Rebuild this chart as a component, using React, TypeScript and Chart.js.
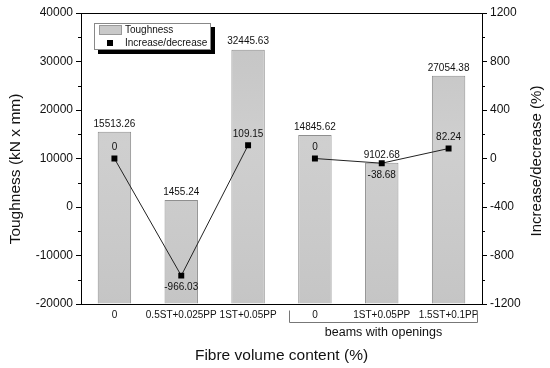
import React, { useEffect, useRef } from 'react';
import { Chart, registerables } from 'chart.js';

Chart.register(...registerables);

const categories = ['0', '0.5ST+0.025PP', '1ST+0.05PP', '0', '1ST+0.05PP', '1.5ST+0.1PP'];
const toughness = [15513.26, 1455.24, 32445.63, 14845.62, 9102.68, 27054.38];
const changeSolid = [0, -966.03, 109.15, null, null, null];
const changeOpenings = [null, null, null, 0, -38.68, 82.24];
const groupLabel = 'beams with openings';
const groupStart = 3;
const groupEnd = 5;
const leftTitle = 'Toughness (kN x mm)';
const rightTitle = 'Increase/decrease (%)';
const xTitle = 'Fibre volume content (%)';
const legendBar = 'Toughness';
const legendLine = 'Increase/decrease';

const FONT = "'Liberation Sans', Arial, Helvetica, sans-serif";

const extras = {
  id: 'extras',
  afterDraw(chart: any) {
    const ctx = chart.ctx;
    const ca = chart.chartArea;
    const yL = chart.scales.y;
    const yR = chart.scales.y1;
    const x = chart.scales.x;
    ctx.save();
    // top frame
    ctx.strokeStyle = '#000';
    ctx.lineWidth = 1;
    ctx.beginPath();
    ctx.moveTo(ca.left, Math.round(ca.top) + 0.5);
    ctx.lineTo(ca.right, Math.round(ca.top) + 0.5);
    ctx.stroke();
    // minor ticks
    const lt = yL.ticks;
    for (let i = 0; i < lt.length - 1; i++) {
      const v = (lt[i].value + lt[i + 1].value) / 2;
      const py = Math.round(yL.getPixelForValue(v)) + 0.5;
      ctx.beginPath();
      ctx.moveTo(ca.left - 3, py);
      ctx.lineTo(ca.left, py);
      ctx.stroke();
    }
    const rt = yR.ticks;
    for (let i = 0; i < rt.length - 1; i++) {
      const v = (rt[i].value + rt[i + 1].value) / 2;
      const py = Math.round(yR.getPixelForValue(v)) + 0.5;
      ctx.beginPath();
      ctx.moveTo(ca.right, py);
      ctx.lineTo(ca.right + 3, py);
      ctx.stroke();
    }
    // bar value labels
    ctx.fillStyle = '#111';
    ctx.font = `10px ${FONT}`;
    ctx.textAlign = 'center';
    ctx.textBaseline = 'bottom';
    const barMeta = chart.getDatasetMeta(0);
    barMeta.data.forEach((el: any, i: number) => {
      ctx.fillText(toughness[i].toFixed(2), el.x, el.y - 3);
    });
    // point labels
    [1, 2].forEach((di) => {
      const meta = chart.getDatasetMeta(di);
      const data = chart.data.datasets[di].data;
      meta.data.forEach((el: any, i: number) => {
        const v = data[i];
        if (v === null || v === undefined) return;
        const txt = v === 0 ? '0' : v.toFixed(2);
        if (v < 0) {
          ctx.textBaseline = 'top';
          ctx.fillText(txt, el.x, el.y + 7);
        } else {
          ctx.textBaseline = 'bottom';
          ctx.fillText(txt, el.x, el.y - 6);
        }
      });
    });
    // group bracket
    const half = (x.getPixelForValue(1) - x.getPixelForValue(0)) / 2;
    const bx0 = Math.round(x.getPixelForValue(groupStart) - half + 7) + 0.5;
    const bx1 = Math.round(x.getPixelForValue(groupEnd) + half - 5) + 0.5;
    const by = 322.5;
    ctx.strokeStyle = '#777';
    ctx.beginPath();
    ctx.moveTo(bx0, by - 12);
    ctx.lineTo(bx0, by);
    ctx.lineTo(bx1, by);
    ctx.lineTo(bx1, by - 12);
    ctx.stroke();
    ctx.fillStyle = '#111';
    ctx.font = `12.5px ${FONT}`;
    ctx.textBaseline = 'middle';
    ctx.textAlign = 'center';
    ctx.fillText(groupLabel, (bx0 + bx1) / 2, 333);
    // axis titles
    ctx.font = `15.5px ${FONT}`;
    ctx.fillText(xTitle, (ca.left + ca.right) / 2, 356);
    ctx.save();
    ctx.translate(16, 169);
    ctx.rotate(-Math.PI / 2);
    ctx.fillText(leftTitle, 0, 0);
    ctx.restore();
    ctx.save();
    ctx.font = `15px ${FONT}`;
    ctx.translate(537, 161);
    ctx.rotate(-Math.PI / 2);
    ctx.fillText(rightTitle, 0, 0);
    ctx.restore();
    // legend
    ctx.fillStyle = '#000';
    ctx.fillRect(98, 27, 117, 27);
    ctx.fillStyle = '#fff';
    ctx.fillRect(94, 23, 117, 27);
    ctx.strokeStyle = '#888';
    ctx.strokeRect(94.5, 23.5, 116, 26);
    ctx.fillStyle = '#c9c9c9';
    ctx.fillRect(99, 25, 23, 10);
    ctx.strokeStyle = '#999';
    ctx.strokeRect(99.5, 25.5, 22, 9);
    ctx.fillStyle = '#000';
    ctx.fillRect(107, 40, 6, 6);
    ctx.fillStyle = '#111';
    ctx.font = `10px ${FONT}`;
    ctx.textAlign = 'left';
    ctx.textBaseline = 'middle';
    ctx.fillText(legendBar, 125, 30.5);
    ctx.fillText(legendLine, 125, 43.5);
    ctx.restore();
  },
};

export default function App() {
  const ref = useRef<HTMLCanvasElement | null>(null);
  useEffect(() => {
    const canvas = ref.current;
    if (!canvas) return;
    const barFill = (context: any) => {
      const chart = context.chart;
      const ca = chart.chartArea;
      if (!ca) return '#c9c9c9';
      const g = chart.ctx.createLinearGradient(0, ca.top, 0, ca.bottom);
      g.addColorStop(0, '#c4c4c4');
      g.addColorStop(0.2, '#c8c8c8');
      g.addColorStop(0.45, '#cfcfcf');
      g.addColorStop(0.7, '#cbcbcb');
      g.addColorStop(1, '#c5c5c5');
      return g;
    };
    const plain = (v: any) => String(v);
    const chart = new Chart(canvas, {
      type: 'bar',
      data: {
        labels: categories,
        datasets: [
          {
            type: 'bar',
            label: legendBar,
            data: toughness,
            base: -20000,
            backgroundColor: barFill,
            borderColor: '#8f8f8f',
            borderWidth: 1,
            categoryPercentage: 1,
            barPercentage: 0.5,
            yAxisID: 'y',
            order: 3,
          } as any,
          {
            type: 'line',
            label: legendLine,
            data: changeSolid,
            borderColor: '#222',
            borderWidth: 1,
            pointStyle: 'rect',
            pointRadius: 4.2,
            pointBackgroundColor: '#000',
            pointBorderColor: '#000',
            pointBorderWidth: 0,
            spanGaps: false,
            yAxisID: 'y1',
            order: 1,
          } as any,
          {
            type: 'line',
            label: legendLine,
            data: changeOpenings,
            borderColor: '#222',
            borderWidth: 1,
            pointStyle: 'rect',
            pointRadius: 4.2,
            pointBackgroundColor: '#000',
            pointBorderColor: '#000',
            pointBorderWidth: 0,
            spanGaps: false,
            yAxisID: 'y1',
            order: 1,
          } as any,
        ],
      },
      options: {
        responsive: false,
        animation: false,
        devicePixelRatio: 1,
        layout: { padding: { top: 13, left: 0, right: 0, bottom: 0 } },
        plugins: { legend: { display: false }, tooltip: { enabled: false } },
        scales: {
          x: {
            type: 'category',
            grid: { display: false, drawTicks: false },
            border: { display: true, color: '#000', width: 1 },
            ticks: {
              autoSkip: false,
              maxRotation: 0,
              minRotation: 0,
              padding: 5,
              color: '#111',
              font: { family: FONT, size: 10 },
            },
            afterFit: (s: any) => {
              s.height = 64;
            },
          },
          y: {
            position: 'left',
            min: -20000,
            max: 40000,
            ticks: {
              stepSize: 10000,
              padding: 3,
              color: '#111',
              font: { family: FONT, size: 12 },
              callback: plain,
            },
            grid: { display: true, drawOnChartArea: false, drawTicks: true, tickLength: 5, color: '#000' },
            border: { display: true, color: '#000', width: 1 },
            afterFit: (s: any) => {
              s.width = 81;
            },
          },
          y1: {
            position: 'right',
            min: -1200,
            max: 1200,
            ticks: {
              stepSize: 400,
              padding: 3,
              color: '#111',
              font: { family: FONT, size: 12 },
              callback: plain,
            },
            grid: { display: true, drawOnChartArea: false, drawTicks: true, tickLength: 5, color: '#000' },
            border: { display: true, color: '#000', width: 1 },
            afterFit: (s: any) => {
              s.width = 68;
            },
          },
        },
      },
      plugins: [extras],
    });
    return () => chart.destroy();
  }, []);
  return (
    <div style={{ position: 'absolute', left: 0, top: 0, width: 550, height: 368, background: '#fff' }}>
      <canvas ref={ref} width={550} height={368} style={{ display: 'block' }} />
    </div>
  );
}
